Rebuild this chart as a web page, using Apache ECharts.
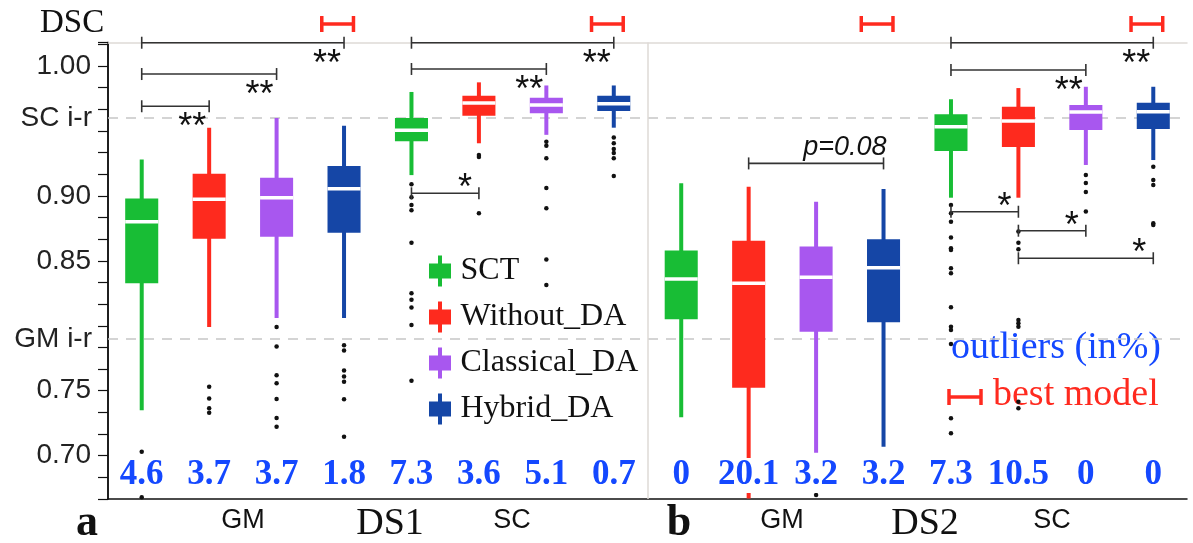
<!DOCTYPE html>
<html><head><meta charset="utf-8">
<script src="https://cdn.jsdelivr.net/npm/echarts@6/dist/echarts.min.js"></script>
<style>html,body{margin:0;padding:0;background:#fff}#c{width:1193px;height:543px}</style>
</head><body><div id="c"></div>
<script>
// ---------- data ----------
const methods = ['SCT', 'Without_DA', 'Classical_DA', 'Hybrid_DA'];
const panels = ['DS1 GM', 'DS1 SC', 'DS2 GM', 'DS2 SC'];
// per panel: [lower whisker, q1, median, q3, upper whisker]
const sctBoxes = [
  [0.735, 0.8327, 0.880, 0.898, 0.928],
  [0.916, 0.942, 0.9505, 0.960, 0.980],
  [0.7296, 0.805, 0.836, 0.858, 0.9097],
  [0.8986, 0.9346, 0.9533, 0.9628, 0.9744]
];
const withoutBoxes = [
  [0.799, 0.867, 0.8974, 0.917, 0.9525],
  [0.9405, 0.9617, 0.9715, 0.977, 0.9874],
  [0.667, 0.7524, 0.8327, 0.8655, 0.907],
  [0.8986, 0.9376, 0.9577, 0.9687, 0.983]
];
const classicalBoxes = [
  [0.806, 0.8686, 0.8986, 0.914, 0.960],
  [0.947, 0.9636, 0.970, 0.9756, 0.985],
  [0.7023, 0.7955, 0.8373, 0.861, 0.8955],
  [0.9238, 0.9507, 0.9646, 0.970, 0.984]
];
const hybridBoxes = [
  [0.806, 0.8717, 0.9055, 0.923, 0.954],
  [0.9525, 0.9654, 0.971, 0.977, 0.985],
  [0.7069, 0.8027, 0.8447, 0.8666, 0.9053],
  [0.9276, 0.9515, 0.9648, 0.9717, 0.984]
];
// outliers per panel
const sctOutliers = [
  [0.703, 0.668],
  [0.909, 0.899, 0.893, 0.889, 0.864, 0.825, 0.820, 0.814, 0.8006, 0.7577],
  [],
  [0.893, 0.8866, 0.880, 0.868, 0.8597, 0.8584, 0.8443, 0.8404, 0.8142, 0.7993, 0.7968, 0.786, 0.7288, 0.7172]
];
const withoutOutliers = [
  [0.753, 0.744, 0.7365, 0.733],
  [0.9315, 0.930, 0.8866],
  [],
  [0.8725, 0.864, 0.859, 0.8045, 0.8019, 0.7993, 0.7416, 0.7365]
];
const classicalOutliers = [
  [0.799, 0.784, 0.762, 0.7557, 0.7437, 0.729, 0.7223],
  [0.9417, 0.9386, 0.929, 0.906, 0.8905, 0.851, 0.8314],
  [0.6697],
  [0.916, 0.910, 0.903, 0.888]
];
const hybridOutliers = [
  [0.785, 0.781, 0.7655, 0.761, 0.757, 0.7434, 0.7146],
  [0.945, 0.9405, 0.936, 0.933, 0.929, 0.9153],
  [],
  [0.9225, 0.9122, 0.9084, 0.879, 0.8776]
];
const outlierPct = ['4.6', '3.7', '3.7', '1.8', '7.3', '3.6', '5.1', '0.7',
                    '0', '20.1', '3.2', '3.2', '7.3', '10.5', '0', '0'];
const pctLevel = 0.6848;
// significance brackets: [from slot, to slot, DSC level, mark]
const sigBrackets = [
  [0, 3, 1.0179, '**'], [0, 2, 0.9938, '**'], [0, 1, 0.969, '**'],
  [4, 7, 1.0179, '**'], [4, 6, 0.9977, '**'], [4, 5, 0.902, '*'],
  [9, 11, 0.925, 'p=0.08'],
  [12, 15, 1.0179, '**'], [12, 14, 0.9969, '**'], [12, 13, 0.8878, '*'],
  [13, 14, 0.8732, '*'], [13, 15, 0.852, '*']
];
const bestModel = [3, 7, 11, 15];
const bestLevel = 1.0323;
const yTickLabels = ['0.70', '0.75', '0.85', '0.90', '1.00'];
const refLines = [['SC i-r', 0.9597], ['GM i-r', 0.7935]];

// ---------- style ----------
const colors = ['#18bd35', '#fe2a1e', '#a857ef', '#1546a6'];
const numBlue = '#1448ff';
const boxSets = [sctBoxes, withoutBoxes, classicalBoxes, hybridBoxes];
const outSets = [sctOutliers, withoutOutliers, classicalOutliers, hybridOutliers];

function boxRender(color) {
  return function (params, api) {
    const x = api.value(0);
    const p = [1, 2, 3, 4, 5].map(i => api.coord([x, api.value(i)]));
    const cx = p[0][0];
    const bw = api.size([0.49, 0])[0];
    const ww = 4;
    return { type: 'group', children: [
      { type: 'rect', shape: { x: cx - ww / 2, y: p[4][1], width: ww, height: p[0][1] - p[4][1] }, style: { fill: color } },
      { type: 'rect', shape: { x: cx - bw / 2, y: p[3][1], width: bw, height: p[1][1] - p[3][1] }, style: { fill: color } },
      { type: 'rect', shape: { x: cx - bw / 2, y: p[2][1] - 1.75, width: bw, height: 3.5 }, style: { fill: '#fff' } }
    ]};
  };
}

const series = methods.map((name, m) => ({
  name, type: 'custom', z: 3,
  itemStyle: { color: colors[m] },
  renderItem: boxRender(colors[m]),
  encode: { x: 0, y: [1, 2, 3, 4, 5] },
  data: boxSets[m].map((b, p) => [p * 4 + m + 0.5].concat(b))
}));

const outData = [];
outSets.forEach((set, m) => set.forEach((vals, p) => vals.forEach(v => outData.push([p * 4 + m + 0.5, v]))));

series.push({
  name: 'outliers', type: 'scatter', z: 4, symbolSize: 4.5, silent: true,
  itemStyle: { color: '#111', opacity: 1 }, data: outData,
  markLine: {
    z: 1, silent: true, symbol: 'none', animation: false,
    data: refLines.map(r => ({
      yAxis: r[1],
      lineStyle: { type: [10, 8], color: '#c6c6c6', width: 1.5, opacity: 1 },
      label: { show: true, position: 'start', distance: 16, formatter: r[0],
               fontFamily: 'Liberation Sans', fontSize: 28, color: '#222' }
    })).concat([{
      xAxis: 8, lineStyle: { type: 'solid', color: '#dedad6', width: 1.5, opacity: 1 }, label: { show: false }
    }])
  }
});

series.push({
  name: 'pct', type: 'scatter', z: 10, symbolSize: 0, silent: true,
  itemStyle: { opacity: 1 },
  data: outlierPct.map((t, i) => [i + 0.5, pctLevel, t]),
  label: { show: true, position: 'inside', formatter: p => p.data[2],
           fontFamily: 'Liberation Serif', fontWeight: 'bold', fontSize: 35, color: numBlue,
           backgroundColor: '#fff', padding: [0, 1] }
});

series.push({
  name: 'sig', type: 'custom', z: 6, silent: true,
  encode: { x: [0, 1], y: 2 },
  data: sigBrackets.map(b => [b[0] + 0.5, b[1] + 0.5, b[2]]),
  renderItem: function (params, api) {
    const a = api.coord([api.value(0), api.value(2)]);
    const b = api.coord([api.value(1), api.value(2)]);
    const mark = sigBrackets[params.dataIndex][3];
    const st = { stroke: '#333', lineWidth: 1.6 };
    const ch = [
      { type: 'line', shape: { x1: a[0], y1: a[1], x2: b[0], y2: b[1] }, style: st },
      { type: 'line', shape: { x1: a[0], y1: a[1] - 6, x2: a[0], y2: a[1] + 6 }, style: st },
      { type: 'line', shape: { x1: b[0], y1: b[1] - 6, x2: b[0], y2: b[1] + 6 }, style: st }
    ];
    if (mark === '**') {
      ch.push({ type: 'text', style: { text: mark, x: b[0] - 3, y: b[1] + 22, align: 'right', verticalAlign: 'middle',
        font: '36px "Liberation Sans"', fill: '#111' } });
    } else if (mark === '*') {
      ch.push({ type: 'text', style: { text: mark, x: b[0] - 7, y: b[1] - 4, align: 'right', verticalAlign: 'middle',
        font: '36px "Liberation Sans"', fill: '#111' } });
    } else {
      ch.push({ type: 'text', style: { text: mark, x: b[0] + 3, y: b[1] - 16, align: 'right', verticalAlign: 'middle',
        font: 'italic 27px "Liberation Sans"', fill: '#111' } });
    }
    return { type: 'group', children: ch };
  }
});

series.push({
  name: 'best', type: 'custom', z: 6, silent: true, clip: false,
  encode: { x: 0, y: 1 },
  data: bestModel.map(s => [s + 0.5, bestLevel]),
  renderItem: function (params, api) {
    const c = api.coord([api.value(0), api.value(1)]);
    const w = api.size([1, 0])[0];
    const x1 = c[0] - 0.33 * w, x2 = c[0] + 0.14 * w;
    const st = { stroke: '#ff2a1f', lineWidth: 3.5 };
    return { type: 'group', children: [
      { type: 'line', shape: { x1, y1: c[1], x2, y2: c[1] }, style: st },
      { type: 'line', shape: { x1, y1: c[1] - 8, x2: x1, y2: c[1] + 8 }, style: st },
      { type: 'line', shape: { x1: x2, y1: c[1] - 8, x2, y2: c[1] + 8 }, style: st }
    ]};
  }
});

const txt = (text, x, y, font, fill, align) => ({
  type: 'text', x, y, silent: true,
  style: { text, font, fill: fill || '#111', align: align || 'center', verticalAlign: 'middle' }
});

const option = {
  animation: false,
  backgroundColor: '#fff',
  grid: { left: 108, right: 6, top: 42.6, bottom: 44 },
  xAxis: [
    { type: 'value', min: 0, max: 16, position: 'bottom',
      axisLine: { show: true, lineStyle: { color: '#111', width: 1.5 } },
      axisTick: { show: false }, axisLabel: { show: false }, splitLine: { show: false } },
    { type: 'value', min: 0, max: 16, position: 'top',
      axisLine: { show: true, lineStyle: { color: '#dedad6', width: 1.5 } },
      axisTick: { show: false }, axisLabel: { show: false }, splitLine: { show: false } }
  ],
  yAxis: [
    { type: 'value', min: 40 / 60, max: 1.018, interval: 1 / 60,
      axisLine: { show: true, lineStyle: { color: '#111', width: 1.5 } },
      axisTick: { show: true, length: 10, lineStyle: { color: '#111', width: 1.2 } },
      axisLabel: { margin: 17, fontFamily: 'Liberation Sans', fontSize: 28, color: '#222',
        formatter: v => { const t = yTickLabels.find(s => Math.abs(parseFloat(s) - v) < 1e-4); return t || ''; } },
      splitLine: { show: false } },
    { type: 'value', min: 40 / 60, max: 1.018, position: 'right',
      axisLine: { show: true, lineStyle: { color: '#111', width: 1.5 } },
      axisTick: { show: false }, axisLabel: { show: false }, splitLine: { show: false } }
  ],
  legend: {
    orient: 'vertical', left: 424, top: 250, itemWidth: 23, itemHeight: 31, itemGap: 14,
    textStyle: { fontFamily: 'Liberation Serif', fontSize: 32, color: '#111', padding: [0, 0, 0, 4] },
    data: methods.map(name => ({ name, icon: 'path://M0,8H22V23H0Z M9,0H13V8H9Z M9,23H13V31H9Z' }))
  },
  graphic: [
    txt('DSC', 40, 23, '33px "Liberation Serif"', '#111', 'left'),
    txt('a', 87, 524, 'bold 44px "Liberation Serif"'),
    txt('GM', 243, 521, '27px "Liberation Sans"'),
    txt('DS1', 390, 524, '38px "Liberation Serif"'),
    txt('SC', 512, 521, '27px "Liberation Sans"'),
    txt('b', 679, 524, 'bold 44px "Liberation Serif"'),
    txt('GM', 782, 521, '27px "Liberation Sans"'),
    txt('DS2', 925, 524, '38px "Liberation Serif"'),
    txt('SC', 1052, 521, '27px "Liberation Sans"'),
    txt('outliers (in%)', 951, 348, '38px "Liberation Serif"', numBlue, 'left'),
    txt('best model', 993, 395, '38px "Liberation Serif"', '#ff2a1f', 'left'),
    { type: 'group', silent: true, children: [
      { type: 'line', shape: { x1: 949, y1: 397, x2: 981, y2: 397 }, style: { stroke: '#ff2a1f', lineWidth: 3.5 } },
      { type: 'line', shape: { x1: 949, y1: 389, x2: 949, y2: 405 }, style: { stroke: '#ff2a1f', lineWidth: 3.5 } },
      { type: 'line', shape: { x1: 981, y1: 389, x2: 981, y2: 405 }, style: { stroke: '#ff2a1f', lineWidth: 3.5 } }
    ]}
  ],
  series
};

const chart = echarts.init(document.getElementById('c'));
chart.setOption(option);
</script></body></html>
